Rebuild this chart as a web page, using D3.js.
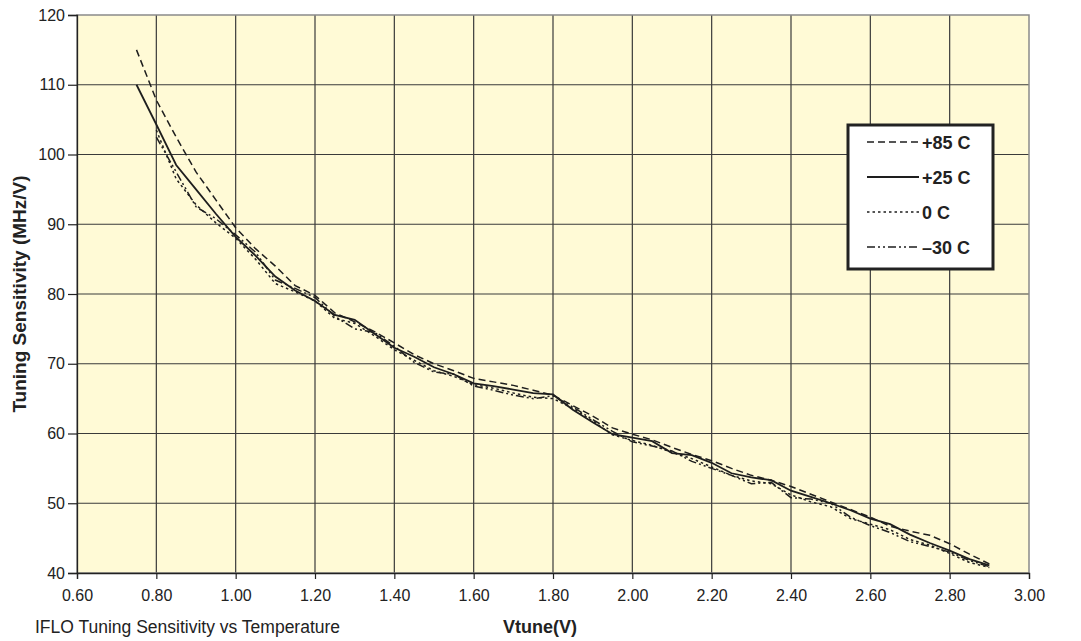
<!DOCTYPE html>
<html>
<head>
<meta charset="utf-8">
<script src="https://cdn.jsdelivr.net/npm/d3@7"></script>
<style>
  body { margin: 0; background: #fff; }
  svg { display: block; font-family: "Liberation Sans", Arial, sans-serif; }
</style>
</head>
<body>
<svg id="svg" width="1081" height="641"></svg>
<script>
// Vtune (V) sample points
const vtune = [0.75, 0.80, 0.85, 0.90, 0.95, 1.00, 1.05, 1.10, 1.15, 1.20, 1.25, 1.30, 1.35, 1.40, 1.45,
  1.50, 1.55, 1.60, 1.65, 1.70, 1.75, 1.80, 1.85, 1.90, 1.95, 2.00, 2.05, 2.10, 2.15, 2.20,
  2.25, 2.30, 2.35, 2.40, 2.45, 2.50, 2.55, 2.60, 2.65, 2.70, 2.75, 2.80, 2.85, 2.90];

// tuning sensitivity (MHz/V) per temperature, null = not measured
const t85 = [115, 107.8, 102.5, 97.5, 93.5, 89.5, 86.5, 84.0, 81.2, 79.8, 77.3, 76.0, 74.6, 73.0, 71.3,
  70.0, 69.0, 67.9, 67.4, 66.9, 66.2, 65.5, 64.0, 62.5, 60.8, 59.9, 59.1, 58.0, 57.0, 56.1,
  55.0, 54.0, 53.3, 52.4, 51.3, 50.2, 49.1, 48.0, 46.7, 46.0, 45.4, 44.2, 42.7, 41.3];
const t25 = [110, 104.3, 98.5, 95.0, 91.5, 88.2, 85.5, 82.5, 80.5, 79.0, 77.0, 76.3, 74.3, 72.3, 71.0,
  69.5, 68.5, 67.2, 66.8, 66.3, 65.8, 65.6, 63.4, 61.6, 59.9, 59.4, 58.9, 57.2, 56.9, 55.8,
  54.3, 53.7, 53.3, 51.8, 50.9, 50.0, 49.0, 47.8, 47.0, 45.5, 44.3, 43.2, 42.0, 41.1];
const t0 = [null, 103.5, 96.5, 92.8, 90.2, 88.0, 85.0, 81.5, 80.3, 79.0, 76.5, 75.8, 74.0, 72.0, 70.5,
  69.0, 68.2, 67.0, 66.5, 65.8, 65.2, 65.0, 63.6, 61.8, 59.8, 59.0, 58.3, 57.3, 56.4, 55.2,
  54.0, 53.2, 52.8, 51.2, 50.2, 49.5, 47.8, 47.0, 46.2, 44.8, 44.0, 42.8, 41.5, 40.8];
const tm30 = [null, 102.5, 97.5, 92.5, 90.8, 88.5, 86.0, 82.0, 80.8, 79.5, 76.8, 75.0, 74.5, 72.5, 70.2,
  68.8, 68.5, 66.8, 66.2, 65.5, 65.0, 65.4, 63.8, 62.0, 60.3, 58.8, 58.2, 57.5, 56.0, 55.0,
  54.0, 52.8, 53.0, 50.8, 50.6, 50.0, 48.0, 46.8, 45.8, 44.5, 43.8, 43.0, 41.8, 40.9];

const seriesNames = ["+85 C", "+25 C", "0 C", "\u201330 C"];
const seriesValues = [t85, t25, t0, tm30];
const dashes = ["7,4", null, "2.5,3", "8,3,2,3,2,3"];

const xTicks = d3.range(0.6, 3.0001, 0.2);
const yTicks = d3.range(40, 120.0001, 10);

const svg = d3.select("#svg");
const L = 77, R = 1029, T = 15, B = 573;

const x = d3.scaleLinear().domain([0.6, 3.0]).range([L, R]);
const y = d3.scaleLinear().domain([40, 120]).range([B, T]);

// plot background
svg.append("rect")
  .attr("x", L).attr("y", T).attr("width", R - L).attr("height", B - T)
  .attr("fill", "#fffad6");

// grid
svg.append("g").selectAll("line")
  .data(xTicks.slice(1, -1))
  .join("line")
  .attr("x1", d => x(d)).attr("x2", d => x(d))
  .attr("y1", T).attr("y2", B)
  .attr("stroke", "#3a3a3a").attr("stroke-width", 1.2);
svg.append("g").selectAll("line")
  .data(yTicks.slice(1, -1))
  .join("line")
  .attr("y1", d => y(d)).attr("y2", d => y(d))
  .attr("x1", L).attr("x2", R)
  .attr("stroke", "#3a3a3a").attr("stroke-width", 1.2);

// frame
svg.append("rect")
  .attr("x", L).attr("y", T).attr("width", R - L).attr("height", B - T)
  .attr("fill", "none").attr("stroke", "#8a8a8a").attr("stroke-width", 1.5);

// axes
const xAxis = svg.append("g")
  .attr("transform", `translate(0,${B})`)
  .call(d3.axisBottom(x).tickValues(xTicks).tickFormat(d3.format(".2f")).tickSize(6).tickPadding(11));
const yAxis = svg.append("g")
  .attr("transform", `translate(${L},0)`)
  .call(d3.axisLeft(y).tickValues(yTicks).tickSize(9).tickPadding(3));
[xAxis, yAxis].forEach(a => {
  a.select(".domain").attr("stroke", "#222").attr("stroke-width", 1.3);
  a.selectAll(".tick line").attr("stroke", "#222").attr("stroke-width", 1.2);
  a.selectAll("text").attr("font-size", 16).attr("fill", "#222")
    .attr("font-family", "Liberation Sans, Arial, sans-serif");
});

// lines
const line = d3.line()
  .defined(d => d[1] != null)
  .x(d => x(d[0]))
  .y(d => y(d[1]));

seriesValues.forEach((vals, i) => {
  svg.append("path")
    .datum(vtune.map((v, j) => [v, vals[j]]))
    .attr("d", line)
    .attr("fill", "none")
    .attr("stroke", "#1e1e1e")
    .attr("stroke-width", i === 1 ? 1.8 : 1.5)
    .attr("stroke-dasharray", dashes[i]);
});

// legend
const lg = svg.append("g");
lg.append("rect")
  .attr("x", 848).attr("y", 125).attr("width", 145).attr("height", 144)
  .attr("fill", "#fff").attr("stroke", "#222").attr("stroke-width", 3);
seriesNames.forEach((name, i) => {
  const cy = 142 + i * 35;
  lg.append("line")
    .attr("x1", 867).attr("x2", 919).attr("y1", cy).attr("y2", cy)
    .attr("stroke", "#1e1e1e").attr("stroke-width", i === 1 ? 1.8 : 1.6)
    .attr("stroke-dasharray", dashes[i]);
  lg.append("text")
    .attr("x", 922).attr("y", cy + 6.5)
    .attr("font-size", 18).attr("font-weight", "bold").attr("fill", "#222")
    .text(name);
});

// titles
svg.append("text")
  .attr("transform", `translate(26,${(T + B) / 2}) rotate(-90)`)
  .attr("text-anchor", "middle")
  .attr("font-size", 19).attr("font-weight", "bold").attr("fill", "#222")
  .text("Tuning Sensitivity (MHz/V)");
svg.append("text")
  .attr("x", 540).attr("y", 633)
  .attr("text-anchor", "middle")
  .attr("font-size", 18).attr("font-weight", "bold").attr("fill", "#222")
  .text("Vtune(V)");
svg.append("text")
  .attr("x", 35).attr("y", 633)
  .attr("font-size", 17.5).attr("fill", "#222")
  .text("IFLO Tuning Sensitivity vs Temperature");
</script>
</body>
</html>
